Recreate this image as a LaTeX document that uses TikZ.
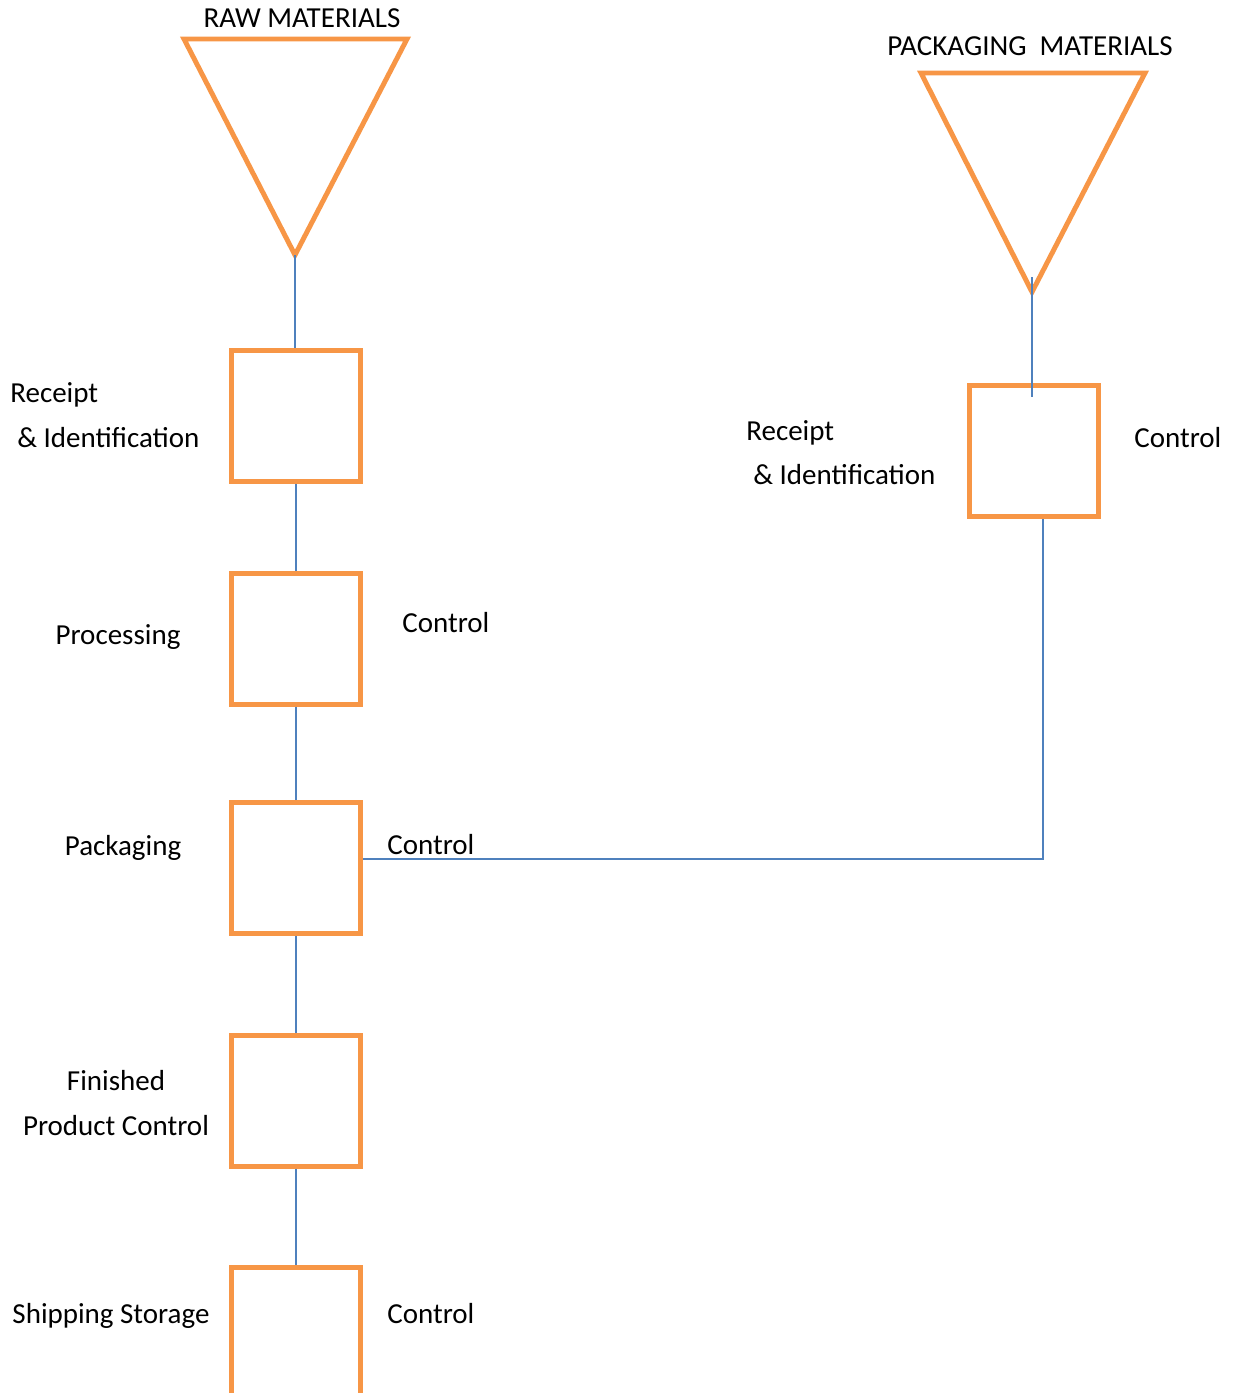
\documentclass[tikz,border=0pt]{standalone}
\usepackage{fontspec}
\setmainfont{Carlito}
\usepackage{tikz}
\usetikzlibrary{positioning}
\definecolor{boxorange}{HTML}{F79646}
\definecolor{linkblue}{HTML}{4F81BD}
\begin{document}
\begin{tikzpicture}[x=0.02cm, y=-0.02cm,
  stepbox/.style={draw=boxorange, line width=2.8pt, minimum width=2.58cm, minimum height=2.62cm, inner sep=0pt},
  tri/.style={draw=boxorange, line width=2.8pt, line join=miter},
  link/.style={draw=linkblue, line width=1.1pt},
  lbl/.style={font=\fontsize{16.5}{20}\selectfont, inner sep=0pt}]
  \clip (0,0) rectangle (1243,1393);
  % triangles: top left, top right, tip
  \coordinate (rawtip) at (295,255);
  \draw[tri] (184,39) -- (407,39) -- (rawtip) -- cycle;
  \coordinate (pkgtip) at (1032,292);
  \draw[tri] (921,73) -- (1145,73) -- (pkgtip) -- cycle;
  \node[lbl, anchor=base] (rawtxt) at (302,27) {RAW MATERIALS};
  \node[lbl, anchor=base] (pkgtxt) at (1030,55) {PACKAGING~~MATERIALS};
  % left chain
  \node[stepbox] (receipt) at (296,416) {};
  \node[stepbox] (process) at (296,639) {};
  \node[stepbox] (packing) at (296,868) {};
  \node[stepbox] (finished) at (296,1101) {};
  \node[stepbox] (shipping) at (296,1333) {};
  % right chain
  \node[stepbox] (pkgreceipt) at (1034,451) {};
  % connectors
  \draw[link] (rawtip) -- (rawtip |- receipt.north);
  \draw[link] (receipt) -- (process);
  \draw[link] (process) -- (packing);
  \draw[link] (packing) -- (finished);
  \draw[link] (finished) -- (shipping);
  \draw[link] ([yshift=8.5pt]pkgtip) -- ([yshift=-8pt]pkgtip |- pkgreceipt.north);
  \draw[link] ([yshift=5pt]packing.east) -| ([xshift=5pt]pkgreceipt.south);
  % labels
  \node[lbl, anchor=base west] (rec1a) at (10,402) {Receipt};
  \node[lbl, anchor=base west] (rec1b) at (17,447) {\& Identification};
  \node[lbl, anchor=base] (proctxt) at (118,644) {Processing};
  \node[lbl, anchor=base west] (ctrl1) at (402,632) {Control};
  \node[lbl, anchor=base] (packtxt) at (123,855) {Packaging};
  \node[lbl, anchor=base west] (ctrl2) at (387,854) {Control};
  \node[lbl, anchor=base] (fin1) at (116,1090) {Finished};
  \node[lbl, anchor=base] (fin2) at (116,1135) {Product Control};
  \node[lbl, anchor=base] (shiptxt) at (111,1323) {Shipping Storage};
  \node[lbl, anchor=base west] (ctrl3) at (387,1323) {Control};
  \node[lbl, anchor=base west] (rec2a) at (746,440) {Receipt};
  \node[lbl, anchor=base west] (rec2b) at (753,484) {\& Identification};
  \node[lbl, anchor=base west] (ctrl4) at (1134,447) {Control};
\end{tikzpicture}
\end{document}
